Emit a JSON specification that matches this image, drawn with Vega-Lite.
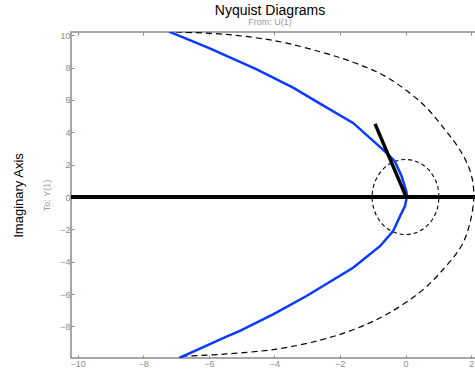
{
  "$schema": "https://vega.github.io/schema/vega-lite/v6.json",
  "width": 410,
  "height": 326,
  "autosize": {"type": "none"},
  "padding": {"left": 71, "top": 32, "right": 0, "bottom": 23},
  "config": {
    "font": "Liberation Sans",
    "view": {"stroke": "#8a8a8a", "strokeWidth": 1.5},
    "axis": {"grid": false, "domain": false, "labelFont": "Liberation Sans", "labelFontSize": 9, "labelColor": "#8c8c8c", "tickColor": "#8a8a8a", "tickSize": -3, "tickWidth": 1}
  },
  "title": {
    "text": "Nyquist Diagrams",
    "subtitle": "From: U(1)",
    "fontSize": 14,
    "fontWeight": "normal",
    "color": "#000000",
    "subtitleFontSize": 9,
    "subtitleColor": "#9a9a9a",
    "subtitlePadding": 0,
    "anchor": "middle",
    "frame": "group",
    "dx": -6,
    "offset": 4
  },
  "datasets": {
    "curves": [
      {"series": "nyq", "i": 1, "x": -7.21, "y": 10.22},
      {"series": "nyq", "i": 2, "x": -5.97, "y": 9.19},
      {"series": "nyq", "i": 3, "x": -4.54, "y": 7.89},
      {"series": "nyq", "i": 4, "x": -3.43, "y": 6.76},
      {"series": "nyq", "i": 5, "x": -2.61, "y": 5.77},
      {"series": "nyq", "i": 6, "x": -1.6, "y": 4.58},
      {"series": "nyq", "i": 7, "x": -0.58, "y": 2.73},
      {"series": "nyq", "i": 8, "x": -0.33, "y": 2.21},
      {"series": "nyq", "i": 9, "x": -0.12, "y": 1.28},
      {"series": "nyq", "i": 10, "x": 0.03, "y": 0.3},
      {"series": "nyq", "i": 11, "x": 0.04, "y": 0.0},
      {"series": "nyq", "i": 12, "x": -0.02, "y": -0.57},
      {"series": "nyq", "i": 13, "x": -0.17, "y": -1.19},
      {"series": "nyq", "i": 14, "x": -0.38, "y": -2.11},
      {"series": "nyq", "i": 15, "x": -0.78, "y": -3.04},
      {"series": "nyq", "i": 16, "x": -1.6, "y": -4.37},
      {"series": "nyq", "i": 17, "x": -3.02, "y": -6.12},
      {"series": "nyq", "i": 18, "x": -4.04, "y": -7.25},
      {"series": "nyq", "i": 19, "x": -5.05, "y": -8.28},
      {"series": "nyq", "i": 20, "x": -5.46, "y": -8.63},
      {"series": "nyq", "i": 21, "x": -6.9, "y": -9.95},
      {"series": "big", "i": 1, "x": -7.0, "y": 10.2},
      {"series": "big", "i": 2, "x": -5.46, "y": 10.05},
      {"series": "big", "i": 3, "x": -3.93, "y": 9.64},
      {"series": "big", "i": 4, "x": -2.61, "y": 8.98},
      {"series": "big", "i": 5, "x": -1.53, "y": 8.28},
      {"series": "big", "i": 6, "x": -0.53, "y": 7.36},
      {"series": "big", "i": 7, "x": 0.49, "y": 5.81},
      {"series": "big", "i": 8, "x": 1.2, "y": 4.17},
      {"series": "big", "i": 9, "x": 1.71, "y": 2.73},
      {"series": "big", "i": 10, "x": 2.0, "y": 1.4},
      {"series": "big", "i": 11, "x": 2.08, "y": 0.0},
      {"series": "big", "i": 12, "x": 1.97, "y": -1.55},
      {"series": "big", "i": 13, "x": 1.71, "y": -3.0},
      {"series": "big", "i": 14, "x": 1.2, "y": -4.35},
      {"series": "big", "i": 15, "x": 0.49, "y": -5.8},
      {"series": "big", "i": 16, "x": -0.53, "y": -7.2},
      {"series": "big", "i": 17, "x": -1.53, "y": -8.15},
      {"series": "big", "i": 18, "x": -2.61, "y": -8.85},
      {"series": "big", "i": 19, "x": -3.93, "y": -9.4},
      {"series": "big", "i": 20, "x": -5.46, "y": -9.7},
      {"series": "big", "i": 21, "x": -6.95, "y": -9.85},
      {"series": "unit", "i": 1, "x": 1.02, "y": 0},
      {"series": "unit", "i": 2, "x": 0.985, "y": 0.6},
      {"series": "unit", "i": 3, "x": 0.883, "y": 1.16},
      {"series": "unit", "i": 4, "x": 0.721, "y": 1.64},
      {"series": "unit", "i": 5, "x": 0.51, "y": 2.01},
      {"series": "unit", "i": 6, "x": 0.264, "y": 2.24},
      {"series": "unit", "i": 7, "x": 0, "y": 2.32},
      {"series": "unit", "i": 8, "x": -0.264, "y": 2.24},
      {"series": "unit", "i": 9, "x": -0.51, "y": 2.01},
      {"series": "unit", "i": 10, "x": -0.721, "y": 1.64},
      {"series": "unit", "i": 11, "x": -0.883, "y": 1.16},
      {"series": "unit", "i": 12, "x": -0.985, "y": 0.6},
      {"series": "unit", "i": 13, "x": -1.02, "y": 0},
      {"series": "unit", "i": 14, "x": -0.985, "y": -0.6},
      {"series": "unit", "i": 15, "x": -0.883, "y": -1.16},
      {"series": "unit", "i": 16, "x": -0.721, "y": -1.64},
      {"series": "unit", "i": 17, "x": -0.51, "y": -2.01},
      {"series": "unit", "i": 18, "x": -0.264, "y": -2.24},
      {"series": "unit", "i": 19, "x": 0, "y": -2.32},
      {"series": "unit", "i": 20, "x": 0.264, "y": -2.24},
      {"series": "unit", "i": 21, "x": 0.51, "y": -2.01},
      {"series": "unit", "i": 22, "x": 0.721, "y": -1.64},
      {"series": "unit", "i": 23, "x": 0.883, "y": -1.16},
      {"series": "unit", "i": 24, "x": 0.985, "y": -0.6},
      {"series": "unit", "i": 25, "x": 1.02, "y": 0},
      {"series": "axis", "i": 1, "x": -11, "y": 0},
      {"series": "axis", "i": 2, "x": 3, "y": 0},
      {"series": "slope", "i": 1, "x": 0.03, "y": -0.05},
      {"series": "slope", "i": 2, "x": -0.93, "y": 4.52}
    ]
  },
  "data": {"name": "curves"},
  "encoding": {
    "order": {"field": "i", "type": "quantitative"}
  },
  "layer": [
    {
      "transform": [{"filter": "datum.series === 'big'"}],
      "mark": {"type": "line", "clip": true, "color": "#000000", "strokeWidth": 1.2, "strokeDash": [6, 4], "interpolate": "cardinal"},
      "encoding": {
        "x": {"field": "x", "type": "quantitative", "scale": {"domain": [-10.2, 2.3], "nice": false, "zero": false}, "axis": {"orient": "top", "values": [-10, -8, -6, -4, -2, 0, 2], "labels": false, "title": null}},
        "y": {"field": "y", "type": "quantitative", "scale": {"domain": [-9.95, 10.2], "nice": false, "zero": false}, "axis": {"orient": "left", "values": [-8, -6, -4, -2, 0, 2, 4, 6, 8, 10], "title": "To: Y(1)", "titleFontSize": 9, "titleFontWeight": "normal", "titleColor": "#9a9a9a", "labelPadding": 4, "titlePadding": 8}}
      }
    },
    {
      "transform": [{"filter": "datum.series === 'unit'"}],
      "mark": {"type": "line", "clip": true, "color": "#000000", "strokeWidth": 1.1, "strokeDash": [4, 3], "interpolate": "cardinal"},
      "encoding": {
        "x": {"field": "x", "type": "quantitative", "axis": null},
        "y": {"field": "y", "type": "quantitative", "axis": null}
      }
    },
    {
      "transform": [{"filter": "datum.series === 'nyq'"}],
      "mark": {"type": "line", "clip": true, "color": "#0a3aff", "strokeWidth": 2.5},
      "encoding": {
        "x": {"field": "x", "type": "quantitative", "axis": null},
        "y": {"field": "y", "type": "quantitative", "axis": {"orient": "left", "offset": 42, "title": "Imaginary Axis", "titleFontSize": 13, "titleFontWeight": "normal", "titleColor": "#000000", "labels": false, "ticks": false, "domain": false, "titlePadding": 4}}
      }
    },
    {
      "transform": [{"filter": "datum.series === 'axis'"}],
      "mark": {"type": "line", "clip": true, "color": "#000000", "strokeWidth": 4},
      "encoding": {
        "x": {"field": "x", "type": "quantitative", "axis": {"orient": "bottom", "values": [-10, -8, -6, -4, -2, 0, 2], "title": null, "labelPadding": 4}},
        "y": {"field": "y", "type": "quantitative", "axis": null}
      }
    },
    {
      "transform": [{"filter": "datum.series === 'slope'"}],
      "mark": {"type": "line", "clip": true, "color": "#000000", "strokeWidth": 3.5},
      "encoding": {
        "x": {"field": "x", "type": "quantitative", "axis": null},
        "y": {"field": "y", "type": "quantitative", "axis": null}
      }
    }
  ],
  "resolve": {"axis": {"x": "independent", "y": "independent"}}
}
